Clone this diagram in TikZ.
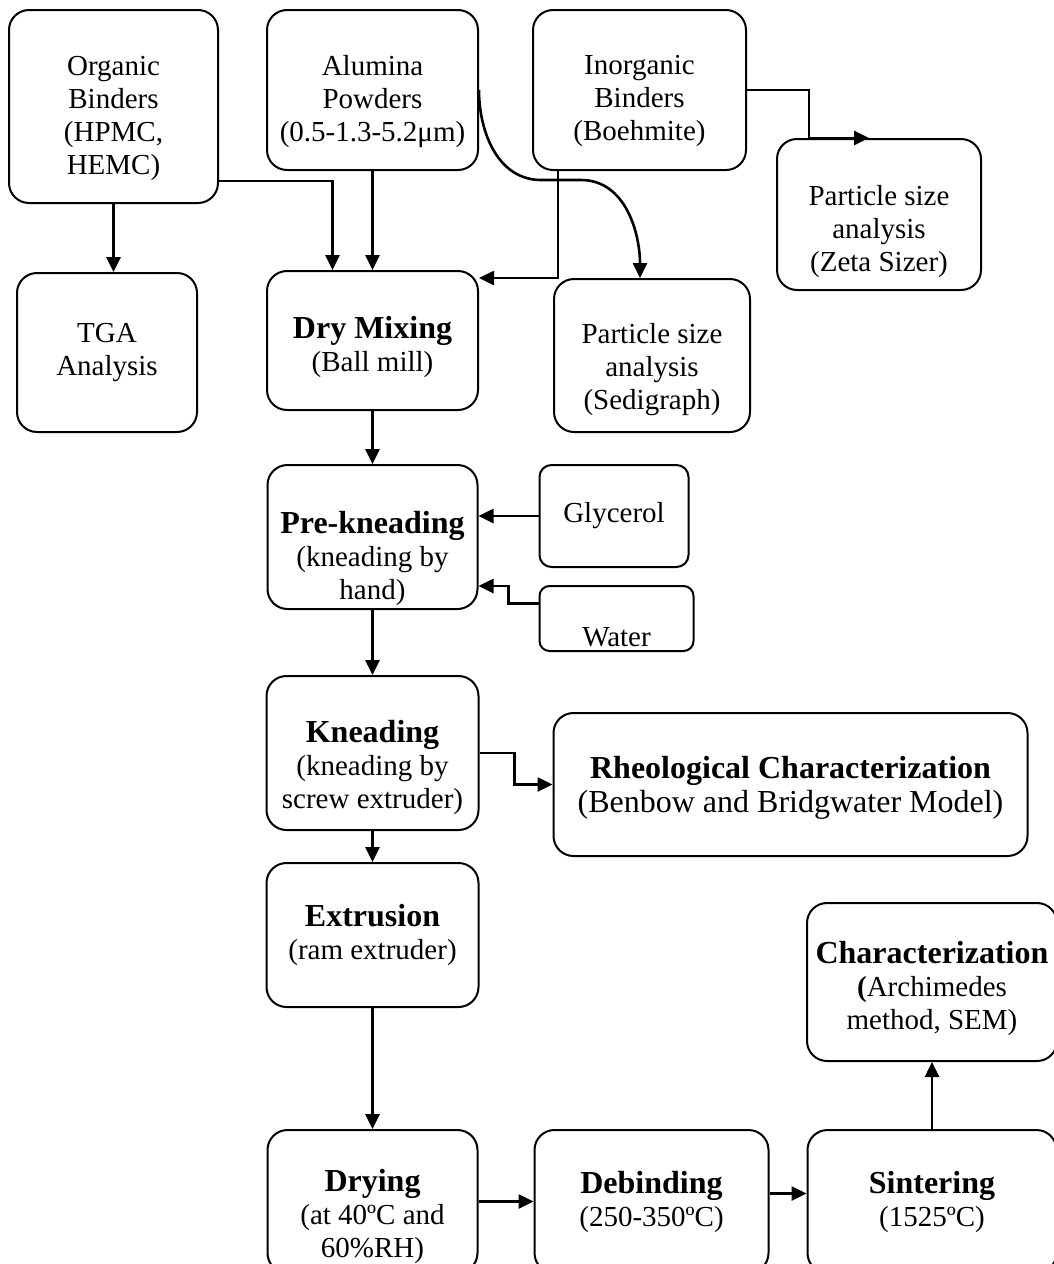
\documentclass[tikz,border=0pt]{standalone}
\usepackage{fontspec}
\setmainfont{Liberation Serif}
\usetikzlibrary{arrows.meta,positioning}
\newcommand{\boxhead}[1]{{\fontsize{32}{33}\selectfont\bfseries #1}}
\newcommand{\lowerby}[1]{\rule{0pt}{\dimexpr 22pt+#1pt*2\relax}}
\tikzset{
  stage/.style={draw,line width=2pt,rounded corners=20pt,align=center,
                inner sep=2pt,font=\fontsize{29}{33}\selectfont},
  smallstage/.style={stage,rounded corners=12pt},
  flow/.style={-{Triangle[length=15pt,width=14pt]},line width=2.6pt}
}
\begin{document}
\begin{tikzpicture}
  \useasboundingbox (0,0) rectangle (1054pt,-1264pt);
  \node[stage,minimum width=211pt,minimum height=160pt] (alumina) at (372.5pt,-90pt)
    {\lowerby{11}Alumina\\Powders\\(0.5-1.3-5.2μm)};
  \node[stage,minimum width=209pt,minimum height=193pt,left=47pt of alumina,yshift=-16.5pt] (organic)
    {\lowerby{11}Organic\\Binders\\(HPMC,\\HEMC)};
  \node[stage,minimum width=213pt,minimum height=160pt,right=53pt of alumina] (inorganic)
    {\lowerby{10}Inorganic\\Binders\\(Boehmite)};
  \node[stage,minimum width=180pt,minimum height=159pt,below=68pt of organic,xshift=-6.5pt] (tga)
    {TGA\\Analysis};
  \node[stage,minimum width=211pt,minimum height=139pt,below=99pt of alumina] (dry)
    {\lowerby{7}\boxhead{Dry Mixing}\\(Ball mill)};
  \node[stage,minimum width=196pt,minimum height=153pt,right=74pt of dry,yshift=-15pt] (sedi)
    {\lowerby{13}Particle size\\analysis\\(Sedigraph)};
  \node[stage,minimum width=204pt,minimum height=151pt,right=29pt of inorganic,yshift=-124.5pt] (zeta)
    {\lowerby{16}Particle size\\analysis\\(Zeta Sizer)};
  \node[stage,minimum width=210pt,minimum height=144pt,below=53pt of dry] (pre)
    {\lowerby{22}\boxhead{Pre-kneading}\\(kneading by\\hand)};
  \node[smallstage,minimum width=149pt,minimum height=102pt,right=60pt of pre,yshift=21pt] (glycerol)
    {Glycerol};
  \node[smallstage,rounded corners=10pt,minimum width=154pt,minimum height=65pt,right=60pt of pre,yshift=-81.5pt] (water)
    {\lowerby{17}Water};
  \node[stage,minimum width=212pt,minimum height=154pt,below=65pt of pre] (kneading)
    {\lowerby{15}\boxhead{Kneading}\\(kneading by\\screw extruder)};
  \node[stage,font=\fontsize{32}{34}\selectfont,minimum width=474pt,minimum height=143pt,right=73pt of kneading,yshift=-31.5pt] (rheo)
    {\lowerby{3}\textbf{Rheological Characterization}\\(Benbow and Bridgwater Model)};
  \node[stage,minimum width=212pt,minimum height=144pt,below=31pt of kneading] (extrusion)
    {\boxhead{Extrusion}\\(ram extruder)};
  \node[stage,minimum width=210pt,minimum height=143pt,below=121pt of extrusion] (drying)
    {\lowerby{15}\boxhead{Drying}\\(at 40ºC and\\60\%RH)};
  \node[stage,minimum width=234pt,minimum height=143pt,right=55pt of drying] (debinding)
    {\boxhead{Debinding}\\(250-350ºC)};
  \node[stage,minimum width=249pt,minimum height=143pt,right=37pt of debinding] (sintering)
    {\boxhead{Sintering}\\(1525ºC)};
  \node[stage,minimum width=250pt,minimum height=158pt,above=67pt of sintering] (charact)
    {\lowerby{7}\boxhead{Characterization}\\\textbf{(}Archimedes\\method, SEM)};

  \draw[flow] (organic.south) -- (organic.south |- tga.north);
  \draw[flow] ([yshift=23pt]organic.south east) -| ([xshift=-40pt]dry.north);
  \draw[flow] (alumina) -- (dry);
  \draw[flow] ([xshift=26pt]inorganic.south west) |- ([yshift=-8pt]dry.north east);
  \draw[flow] (inorganic.east) -| ([xshift=33pt]zeta.north west) -- ([xshift=93pt]zeta.north west);
  \draw[flow] (alumina.east) to[out=-90,in=180] ++(62pt,-90pt) -- ++(40pt,0)
    to[out=0,in=90] ([xshift=-12pt]sedi.north);
  \draw[flow] (dry) -- (pre);
  \draw[flow] (glycerol.west) -- (glycerol.west -| pre.east);
  \draw[flow] ([yshift=15pt]water.west) -- ++(-30pt,0) |- ([yshift=-49pt]pre.east);
  \draw[flow] (pre) -- (kneading);
  \draw[flow] (kneading.east) -- ++(35pt,0) |- (rheo.west);
  \draw[flow] (kneading) -- (extrusion);
  \draw[flow] (extrusion) -- (drying);
  \draw[flow] (drying) -- (debinding);
  \draw[flow] ([yshift=8pt]debinding.east) -- ([yshift=8pt]sintering.west);
  \draw[flow] (sintering) -- (charact);
\end{tikzpicture}
\end{document}
